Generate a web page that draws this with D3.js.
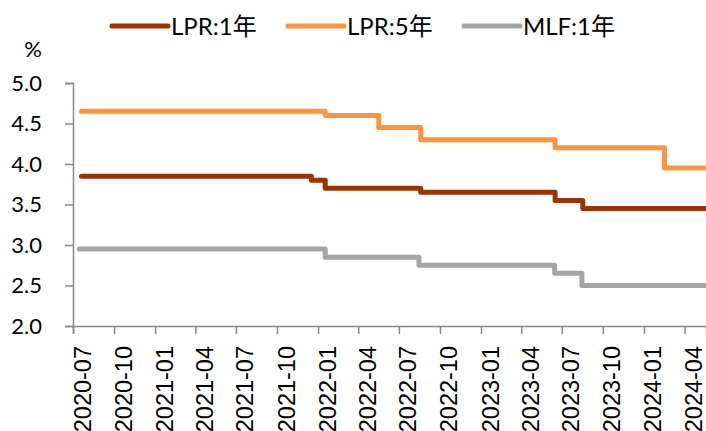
<!DOCTYPE html>
<html>
<head>
<meta charset="utf-8">
<script src="https://cdn.jsdelivr.net/npm/d3@7"></script>
<style>
  body { margin: 0; background: #fff; }
  svg { display: block; }
</style>
</head>
<body>
<div id="chart"></div>
<script>
// rate change dates and levels (step series)
var lpr1Dates = ["2020-07-20", "2021-12-17", "2022-01-17", "2022-08-19", "2023-06-16", "2023-08-17", "2024-05-19"];
var lpr1Values = [3.85, 3.80, 3.70, 3.65, 3.55, 3.45, 3.45];

var lpr5Dates = ["2020-07-20", "2022-01-17", "2022-05-17", "2022-08-19", "2023-06-16", "2024-02-16", "2024-05-19"];
var lpr5Values = [4.65, 4.60, 4.45, 4.30, 4.20, 3.95, 3.95];

var mlfDates = ["2020-07-15", "2022-01-17", "2022-08-15", "2023-06-15", "2023-08-15", "2024-05-19"];
var mlfValues = [2.95, 2.85, 2.75, 2.65, 2.50, 2.50];

var seriesNames = ["LPR:1年", "LPR:5年", "MLF:1年"];
var seriesColors = ["#993300", "#F79646", "#A5A5A5"];
var yTicks = [2.0, 2.5, 3.0, 3.5, 4.0, 4.5, 5.0];

var W = 706, H = 431;
var margin = { left: 73, right: 0, top: 83, bottom: 105 };

var parse = d3.timeParse("%Y-%m-%d");

var svg = d3.select("#chart").append("svg")
    .attr("width", W)
    .attr("height", H);

var x = d3.scaleTime()
    .domain([parse("2020-07-01"), parse("2024-05-19")])
    .range([margin.left, W - margin.right]);

var y = d3.scaleLinear()
    .domain([2, 5])
    .range([H - margin.bottom, margin.top]);

var axisColor = "#898989";

// y axis
var yAxis = svg.append("g")
    .attr("transform", "translate(" + margin.left + ",0)")
    .call(d3.axisLeft(y).tickValues(yTicks).tickSize(8).tickPadding(23)
        .tickFormat(d3.format(".1f")));
yAxis.select(".domain").attr("stroke", axisColor).attr("stroke-width", 1.5);
yAxis.selectAll(".tick line").attr("stroke", axisColor).attr("stroke-width", 1.5);
yAxis.selectAll("text")
    .attr("font-family", "Lato, sans-serif")
    .attr("font-size", "22px")
    .attr("fill", "#000");

// x axis
var xAxis = svg.append("g")
    .attr("transform", "translate(0," + y(2) + ")")
    .call(d3.axisBottom(x).ticks(d3.timeMonth.every(3)).tickSize(8)
        .tickFormat(d3.timeFormat("%Y-%m")));
xAxis.select(".domain").attr("stroke", axisColor).attr("stroke-width", 1.5);
xAxis.selectAll(".tick line").attr("stroke", axisColor).attr("stroke-width", 1.5);
xAxis.selectAll("text")
    .attr("font-family", "'Liberation Sans', Arial, sans-serif")
    .attr("font-size", "23.5px")
    .attr("fill", "#000")
    .attr("transform", "rotate(-90)")
    .attr("x", -20)
    .attr("y", 17)
    .attr("dy", null)
    .style("text-anchor", "end");

// unit label
svg.append("text")
    .attr("x", 42)
    .attr("y", 57)
    .attr("text-anchor", "end")
    .attr("font-family", "Lato, sans-serif")
    .attr("font-size", "22px")
    .text("%");

// lines
var line = d3.line()
    .x(function(d) { return x(d.date); })
    .y(function(d) { return y(d.value); })
    .curve(d3.curveStepAfter);

function toPoints(dates, values) {
    return dates.map(function(d, i) { return { date: parse(d), value: values[i] }; });
}

var allSeries = [
    toPoints(lpr1Dates, lpr1Values),
    toPoints(lpr5Dates, lpr5Values),
    toPoints(mlfDates, mlfValues)
];

svg.selectAll(".series")
    .data(allSeries)
    .enter()
    .append("path")
    .attr("class", "series")
    .attr("d", line)
    .attr("fill", "none")
    .attr("stroke", function(d, i) { return seriesColors[i]; })
    .attr("stroke-width", 5)
    .attr("stroke-linejoin", "round")
    .attr("stroke-linecap", "round");

// legend
var legendX = [112, 288, 464];
var legend = svg.selectAll(".legend")
    .data(seriesNames)
    .enter()
    .append("g")
    .attr("class", "legend")
    .attr("transform", function(d, i) { return "translate(" + legendX[i] + ",26)"; });

legend.append("line")
    .attr("x1", 0).attr("x2", 56)
    .attr("y1", 0).attr("y2", 0)
    .attr("stroke", function(d, i) { return seriesColors[i]; })
    .attr("stroke-width", 5)
    .attr("stroke-linecap", "round");

legend.append("text")
    .attr("x", 59)
    .attr("y", 0)
    .attr("dy", "0.36em")
    .attr("font-family", "Lato, 'Noto Sans CJK SC', sans-serif")
    .attr("font-size", "24px")
    .text(function(d) { return d; });
</script>
</body>
</html>
